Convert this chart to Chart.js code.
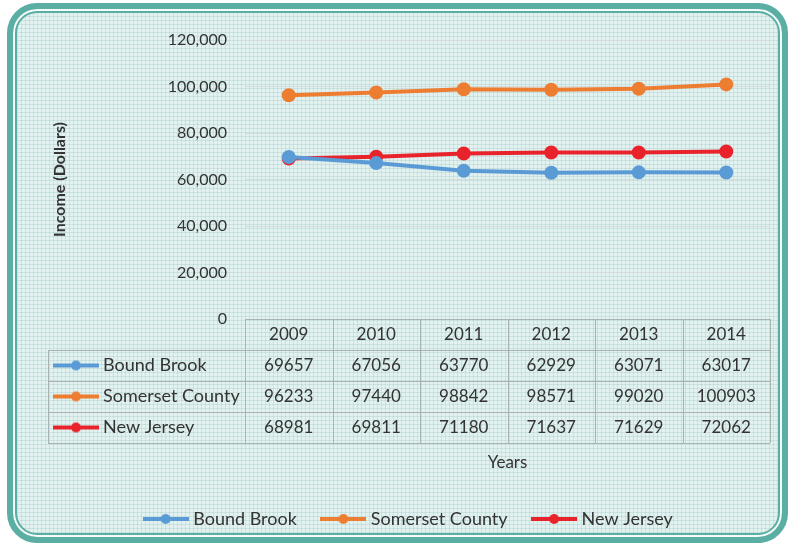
<!DOCTYPE html>
<html>
<head>
<meta charset="utf-8">
<script src="https://cdn.jsdelivr.net/npm/chart.js@4"></script>
<style>
  html, body { margin: 0; padding: 0; background: #fff; }
  #wrap { position: relative; width: 788px; height: 544px; overflow: hidden; }
  #frame {
    position: absolute; left: 7px; top: 3px; width: 769px; height: 528px;
    border: 6px solid #5aaea3; border-radius: 30px;
    box-shadow: inset 0 0 0 2px #f4fbfa, inset 0 0 0 4px #5aaea3;
    background-color: #e2f2f0;
    background-image:
      repeating-linear-gradient(0deg, rgba(140,190,185,0.28) 0 1px, transparent 1px 4px),
      repeating-linear-gradient(90deg, rgba(140,190,185,0.28) 0 1px, transparent 1px 4px);
  }
  canvas { position: absolute; left: 0; top: 0; }
</style>
</head>
<body>
<div id="wrap">
  <div id="frame"></div>
  <canvas id="myChart" width="788" height="544"></canvas>
</div>
<script>
const years = ["2009", "2010", "2011", "2012", "2013", "2014"];
const boundBrook = [69657, 67056, 63770, 62929, 63071, 63017];
const somerset = [96233, 97440, 98842, 98571, 99020, 100903];
const newJersey = [68981, 69811, 71180, 71637, 71629, 72062];

const seriesNames = ["Bound Brook", "Somerset County", "New Jersey"];
const seriesColors = ["#5b9bd5", "#ed7d31", "#e8232b"];
const seriesData = [boundBrook, somerset, newJersey];

const textColor = "#333333";
const fontFamily = "Lato, 'Open Sans', sans-serif";
const fontSize = 17;

// little line-with-dot marker used in the legend and the data table
function makeMarker(color) {
  const c = document.createElement("canvas");
  c.width = 46;
  c.height = 12;
  const g = c.getContext("2d");
  g.strokeStyle = color;
  g.lineWidth = 4;
  g.beginPath();
  g.moveTo(0, 6);
  g.lineTo(46, 6);
  g.stroke();
  g.fillStyle = color;
  g.beginPath();
  g.arc(23, 6, 5, 0, Math.PI * 2);
  g.fill();
  return c;
}
const markers = seriesColors.map(makeMarker);

// draws the data table under the x axis
const dataTable = {
  id: "dataTable",
  afterDraw(chart) {
    const ctx = chart.ctx;
    const x = chart.scales.x;
    const top = chart.chartArea.bottom;
    const rowH = 31;
    const step = x.getPixelForValue(1) - x.getPixelForValue(0);
    const left = x.getPixelForValue(0) - step / 2;
    const right = x.getPixelForValue(years.length - 1) + step / 2;
    const labelLeft = 48;
    const bottom = top + rowH * 4;

    ctx.save();
    ctx.strokeStyle = "#a9b3b2";
    ctx.lineWidth = 1;
    ctx.beginPath();
    ctx.moveTo(left, top + 0.5);
    ctx.lineTo(right, top + 0.5);
    for (let r = 1; r <= 4; r++) {
      const y = Math.round(top + rowH * r) + 0.5;
      ctx.moveTo(labelLeft, y);
      ctx.lineTo(right, y);
    }
    ctx.moveTo(labelLeft + 0.5, top + rowH);
    ctx.lineTo(labelLeft + 0.5, bottom);
    for (let i = 0; i <= years.length; i++) {
      const xx = Math.round(left + step * i) + 0.5;
      ctx.moveTo(xx, top);
      ctx.lineTo(xx, bottom);
    }
    ctx.stroke();

    ctx.fillStyle = textColor;
    ctx.textBaseline = "middle";
    seriesData.forEach((arr, r) => {
      const cy = top + rowH * (r + 1) + rowH / 2;
      ctx.drawImage(markers[r], labelLeft + 5, cy - 6);
      ctx.font = "18px " + fontFamily;
      ctx.textAlign = "left";
      ctx.fillText(seriesNames[r], labelLeft + 55, cy);
      ctx.font = fontSize + "px " + fontFamily;
      ctx.textAlign = "center";
      arr.forEach((v, i) => {
        ctx.fillText(String(v), x.getPixelForValue(i), cy);
      });
    });
    ctx.restore();
  },
};

const ctx = document.getElementById("myChart");

const myChart = new Chart(ctx, {
  type: "line",
  data: {
    labels: years,
    datasets: seriesData.map((arr, i) => ({
      label: seriesNames[i],
      data: arr,
      borderColor: seriesColors[i],
      backgroundColor: seriesColors[i],
      borderWidth: 4,
      pointRadius: 5,
      pointStyle: "circle",
      tension: 0,
    })),
  },
  plugins: [dataTable],
  options: {
    responsive: false,
    animation: false,
    layout: {
      padding: { left: 50, right: 18, top: 40, bottom: 6 },
    },
    plugins: {
      legend: {
        position: "bottom",
        labels: {
          usePointStyle: true,
          pointStyleWidth: 37,
          boxHeight: 12,
          padding: 28,
          color: textColor,
          font: { family: fontFamily, size: 18 },
          generateLabels: (chart) =>
            chart.data.datasets.map((ds, i) => ({
              text: ds.label,
              pointStyle: markers[i],
              fillStyle: ds.borderColor,
              strokeStyle: ds.borderColor,
              lineWidth: 0,
              fontColor: textColor,
              datasetIndex: i,
            })),
        },
      },
      tooltip: { enabled: false },
    },
    scales: {
      x: {
        type: "category",
        offset: true,
        grid: { display: false, drawTicks: false },
        border: { display: false },
        ticks: {
          color: textColor,
          padding: 5,
          font: { family: fontFamily, size: fontSize },
        },
        title: {
          display: true,
          text: "Years",
          color: textColor,
          padding: { top: 0, bottom: 9 },
          font: { family: fontFamily, size: 17 },
        },
        afterFit: (scale) => {
          scale.height = 163;
        },
      },
      y: {
        min: 0,
        max: 120000,
        grid: { color: "#d3dcdb", drawTicks: false },
        border: { display: false },
        ticks: {
          stepSize: 20000,
          padding: 18,
          color: textColor,
          font: { family: fontFamily, size: 16 },
          callback: (v) => v.toLocaleString("en-US"),
        },
        title: {
          display: true,
          text: "Income (Dollars)",
          color: textColor,
          padding: { top: 0, bottom: 0 },
          font: { family: fontFamily, size: 16, weight: "bold" },
        },
        afterFit: (scale) => {
          scale.width = 195;
        },
      },
    },
  },
});
</script>
</body>
</html>
